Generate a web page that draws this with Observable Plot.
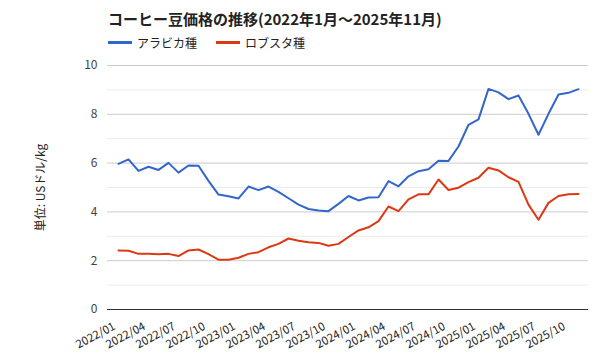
<!DOCTYPE html>
<html>
<head>
<meta charset="utf-8">
<script src="https://cdn.jsdelivr.net/npm/d3@7"></script>
<script src="https://cdn.jsdelivr.net/npm/@observablehq/plot@0.6"></script>
<style>
  body { margin: 0; background: #fff; font-family: "Noto Sans CJK JP", "Noto Sans", sans-serif; }
  #wrap { width: 600px; height: 360px; position: relative; }
  #title { position: absolute; left: 108px; top: 8px; font-size: 15px; font-weight: bold; color: #222; white-space: nowrap; }
  #legend { position: absolute; left: 108px; top: 34px; font-size: 12px; color: #222; display: flex; align-items: center; white-space: nowrap; }
  .item { display: flex; align-items: center; margin-right: 19px; }
  .sw { width: 24px; height: 3px; margin-right: 5px; }
  #chart { position: absolute; left: 0; top: 55px; }
</style>
</head>
<body>
<div id="wrap">
  <div id="title"></div>
  <div id="legend"></div>
  <div id="chart"></div>
</div>
<script>
const titleText = "コーヒー豆価格の推移(2022年1月～2025年11月)";
const yLabel = "単位: USドル/kg";
const seriesNames = ["アラビカ種", "ロブスタ種"];
const seriesColors = ["#3366cc", "#dc3912"];

const months = [
  "2022/01","2022/02","2022/03","2022/04","2022/05","2022/06","2022/07","2022/08","2022/09","2022/10","2022/11","2022/12",
  "2023/01","2023/02","2023/03","2023/04","2023/05","2023/06","2023/07","2023/08","2023/09","2023/10","2023/11","2023/12",
  "2024/01","2024/02","2024/03","2024/04","2024/05","2024/06","2024/07","2024/08","2024/09","2024/10","2024/11","2024/12",
  "2025/01","2025/02","2025/03","2025/04","2025/05","2025/06","2025/07","2025/08","2025/09","2025/10","2025/11"
];
const tickLabels = ["2022/01","2022/04","2022/07","2022/10","2023/01","2023/04","2023/07","2023/10",
  "2024/01","2024/04","2024/07","2024/10","2025/01","2025/04","2025/07","2025/10"];

const arabica = [5.97,6.15,5.68,5.85,5.72,6.01,5.61,5.9,5.89,5.27,4.71,4.64,4.55,5.04,4.89,5.04,4.82,4.56,4.3,4.12,4.06,4.03,4.33,4.65,4.47,4.59,4.6,5.26,5.05,5.46,5.67,5.75,6.1,6.09,6.68,7.57,7.79,9.04,8.9,8.62,8.77,8.02,7.16,8.02,8.81,8.88,9.03];
const robusta = [2.42,2.41,2.28,2.28,2.26,2.28,2.19,2.42,2.46,2.27,2.04,2.04,2.12,2.28,2.35,2.55,2.69,2.91,2.82,2.76,2.73,2.61,2.69,2.97,3.24,3.37,3.62,4.22,4.03,4.51,4.72,4.72,5.33,4.9,4.99,5.22,5.4,5.81,5.7,5.42,5.23,4.3,3.68,4.37,4.65,4.72,4.73];

const majorTicks = [0, 2, 4, 6, 8, 10];
const minorTicks = [1, 3, 5, 7, 9];

document.getElementById("title").textContent = titleText;
const leg = document.getElementById("legend");
seriesNames.forEach((n, i) => {
  const it = document.createElement("div"); it.className = "item";
  const sw = document.createElement("div"); sw.className = "sw"; sw.style.background = seriesColors[i];
  const t = document.createElement("span"); t.textContent = n;
  it.appendChild(sw); it.appendChild(t); leg.appendChild(it);
});

const data = [];
months.forEach((m, i) => {
  data.push({month: m, value: arabica[i], series: seriesNames[0]});
  data.push({month: m, value: robusta[i], series: seriesNames[1]});
});

const chart = Plot.plot({
  width: 600,
  height: 305,
  marginTop: 10,
  marginBottom: 51,
  marginLeft: 107,
  marginRight: 12,
  style: {fontFamily: "'Noto Sans CJK JP', 'Noto Sans', sans-serif", fontSize: "11px", color: "#444", background: "#fff"},
  x: {type: "point", domain: months, padding: 0.5, label: null},
  y: {domain: [0, 10], label: null},
  color: {domain: seriesNames, range: seriesColors},
  marks: [
    Plot.ruleY(minorTicks, {stroke: "#ebebeb", strokeWidth: 1}),
    Plot.ruleY(majorTicks.filter(d => d > 0), {stroke: "#cccccc", strokeWidth: 1}),
    Plot.axisY({ticks: majorTicks, tickSize: 0, tickPadding: 10, label: null, fontSize: 12, fill: "#444"}),
    Plot.axisX({ticks: tickLabels, tickSize: 0, tickPadding: 16, tickRotate: -28, dx: -4, label: null, fontSize: 11.5, fill: "#222"}),
    Plot.text([yLabel], {frameAnchor: "left", textAnchor: "middle", dx: -66, rotate: -90, fontSize: 12, fill: "#222"}),
    Plot.line(data, {x: "month", y: "value", z: "series", stroke: "series", strokeWidth: 2, curve: "linear"}),
    Plot.ruleY([0], {stroke: "#333", strokeWidth: 1})
  ]
});
document.getElementById("chart").appendChild(chart);
</script>
</body>
</html>
